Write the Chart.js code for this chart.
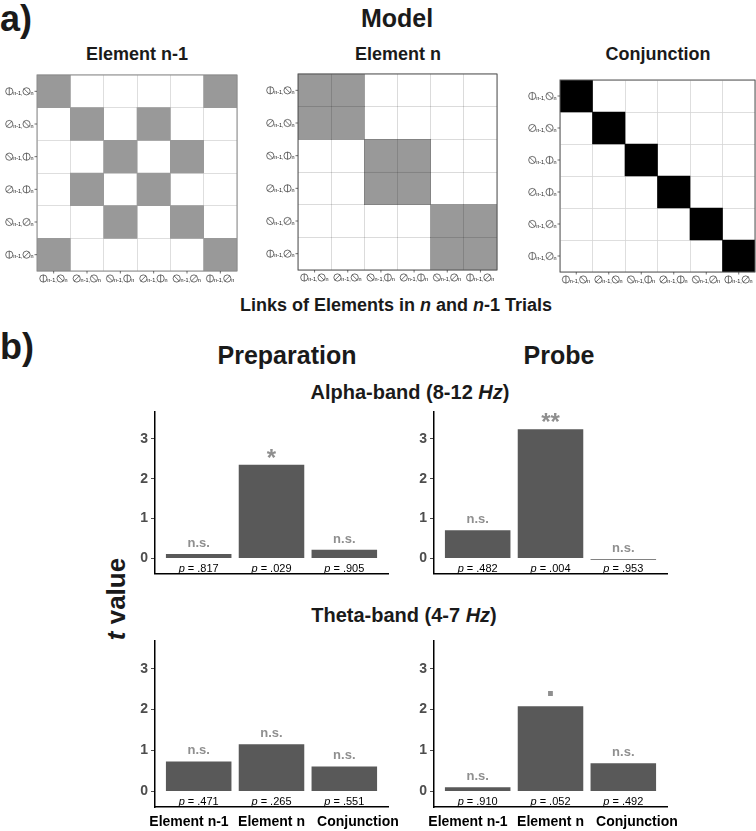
<!DOCTYPE html>
<html>
<head>
<meta charset="utf-8">
<script src="https://cdn.jsdelivr.net/npm/chart.js@4.4.1/dist/chart.umd.min.js"></script>
<style>
  html, body { margin: 0; padding: 0; background: #fff; }
  body { width: 756px; height: 831px; position: relative; overflow: hidden;
         font-family: "Liberation Sans", Arial, sans-serif; color: #1a1a1a; }
  .t { position: absolute; font-weight: bold; white-space: nowrap; line-height: 1;
       transform: translate(-50%, -50%); }
  canvas { position: absolute; }
</style>
</head>
<body>
<div class="t" style="left:0;top:19px;font-size:36px;transform:translateY(-50%)">a)</div>
<div class="t" style="left:397px;top:18px;font-size:25px">Model</div>
<div class="t" style="left:137px;top:54px;font-size:18px">Element n-1</div>
<div class="t" style="left:398px;top:54px;font-size:18px">Element n</div>
<div class="t" style="left:658px;top:54px;font-size:18px">Conjunction</div>
<div class="t" style="left:396px;top:305px;font-size:18px">Links of Elements in <i>n</i> and <i>n</i>-1 Trials</div>

<div class="t" style="left:0;top:347px;font-size:36px;transform:translateY(-50%)">b)</div>
<div class="t" style="left:287px;top:355px;font-size:25px">Preparation</div>
<div class="t" style="left:559px;top:355px;font-size:25px">Probe</div>
<div class="t" style="left:410px;top:392px;font-size:20px">Alpha-band (8-12 <i>Hz</i>)</div>
<div class="t" style="left:404px;top:615px;font-size:20px">Theta-band (4-7 <i>Hz</i>)</div>
<div class="t" style="left:116px;top:599px;font-size:26px;transform:translate(-50%,-50%) rotate(-90deg)"><i>t</i> value</div>

<canvas id="mPrev" width="242" height="220" style="left:0;top:65px"></canvas>
<canvas id="mCur" width="244" height="220" style="left:258px;top:64px"></canvas>
<canvas id="mConj" width="236" height="216" style="left:520px;top:70px"></canvas>

<canvas id="prepAlpha" width="290" height="185" style="left:115px;top:400px"></canvas>
<canvas id="probeAlpha" width="290" height="185" style="left:394px;top:400px"></canvas>
<canvas id="prepTheta" width="290" height="204" style="left:115px;top:629px"></canvas>
<canvas id="probeTheta" width="290" height="204" style="left:394px;top:629px"></canvas>

<script>
// links of elements (n-1 trial symbol, n trial symbol)
const linkPrev = ['⦶', '⊘', '⦸', '⊘', '⦸', '⦶'];
const linkCur  = ['⦸', '⦸', '⦶', '⦶', '⊘', '⊘'];
const linkLabels = linkPrev.map((p, i) => p + 'n-1,' + linkCur[i] + 'n');

// model matrices (rows top to bottom, columns left to right)
const matrixElementPrev = [
  [1, 0, 0, 0, 0, 1],
  [0, 1, 0, 1, 0, 0],
  [0, 0, 1, 0, 1, 0],
  [0, 1, 0, 1, 0, 0],
  [0, 0, 1, 0, 1, 0],
  [1, 0, 0, 0, 0, 1]
];
const matrixElementCur = [
  [1, 1, 0, 0, 0, 0],
  [1, 1, 0, 0, 0, 0],
  [0, 0, 1, 1, 0, 0],
  [0, 0, 1, 1, 0, 0],
  [0, 0, 0, 0, 1, 1],
  [0, 0, 0, 0, 1, 1]
];
const matrixConjunction = [
  [1, 0, 0, 0, 0, 0],
  [0, 1, 0, 0, 0, 0],
  [0, 0, 1, 0, 0, 0],
  [0, 0, 0, 1, 0, 0],
  [0, 0, 0, 0, 1, 0],
  [0, 0, 0, 0, 0, 1]
];

// t values
const conditions  = ['Element n-1', 'Element n', 'Conjunction'];
const tTicks      = [0, 1, 2, 3];
const tPrepAlpha  = [0.11, 2.35, 0.22];
const tProbeAlpha = [0.71, 3.24, -0.03];
const tPrepTheta  = [0.73, 1.15, 0.61];
const tProbeTheta = [0.10, 2.08, 0.69];
const pPrepAlpha  = ['.817', '.029', '.905'];
const pProbeAlpha = ['.482', '.004', '.953'];
const pPrepTheta  = ['.471', '.265', '.551'];
const pProbeTheta = ['.910', '.052', '.492'];
const sigPrepAlpha  = ['n.s.', '*', 'n.s.'];
const sigProbeAlpha = ['n.s.', '**', 'n.s.'];
const sigPrepTheta  = ['n.s.', 'n.s.', 'n.s.'];
const sigProbeTheta = ['n.s.', '.', 'n.s.'];

const FONT = '"Liberation Sans", Arial, sans-serif';

// circle symbols
function drawSym(ctx, cx, cy, r, s) {
  ctx.beginPath();
  ctx.arc(cx, cy, r, 0, Math.PI * 2);
  const d = r * 0.72;
  if (s === '⦶') { ctx.moveTo(cx, cy - r); ctx.lineTo(cx, cy + r); }
  else if (s === '⦸') { ctx.moveTo(cx - d, cy - d); ctx.lineTo(cx + d, cy + d); }
  else { ctx.moveTo(cx - d, cy + d); ctx.lineTo(cx + d, cy - d); }
  ctx.stroke();
}

// draws "A n-1, B n" ; returns the width
function drawLink(ctx, x0, cy, a, b, draw) {
  const r = 3.6;
  ctx.font = '5.5px ' + FONT;
  ctx.textAlign = 'left';
  ctx.textBaseline = 'alphabetic';
  let x = x0;
  if (draw) drawSym(ctx, x + r, cy, r, a);
  x += 2 * r + 0.3;
  if (draw) ctx.fillText('n-1', x, cy + r);
  x += ctx.measureText('n-1').width;
  if (draw) ctx.fillText(',', x, cy + r);
  x += ctx.measureText(',').width + 0.3;
  if (draw) drawSym(ctx, x + r, cy, r, b);
  x += 2 * r + 0.3;
  if (draw) ctx.fillText('n', x, cy + r);
  x += ctx.measureText('n').width;
  return x - x0;
}

const matrixLabels = {
  id: 'matrixLabels',
  afterDraw(chart, args, opts) {
    const { ctx, chartArea: a, scales: { x, y } } = chart;
    ctx.save();
    ctx.strokeStyle = opts.frame;
    ctx.lineWidth = 1;
    ctx.strokeRect(a.left, a.top, a.right - a.left, a.bottom - a.top);
    ctx.fillStyle = '#222';
    linkPrev.forEach((p, i) => {
      const w = drawLink(ctx, 0, 0, p, linkCur[i], false);
      ctx.strokeStyle = '#333';
      ctx.lineWidth = 0.7;
      const cy = y.getPixelForValue(i);
      ctx.beginPath(); ctx.moveTo(a.left - 2.5, cy); ctx.lineTo(a.left, cy); ctx.stroke();
      drawLink(ctx, a.left - 3.5 - w, cy, p, linkCur[i], true);
      const cx = x.getPixelForValue(i + 0.5);
      ctx.beginPath(); ctx.moveTo(cx, a.bottom); ctx.lineTo(cx, a.bottom + 2.5); ctx.stroke();
      drawLink(ctx, cx - w / 2, a.bottom + 7.5, p, linkCur[i], true);
    });
    ctx.restore();
  }
};

function makeMatrix(id, matrix, fill, frame, gridOnTop, yWidth, padRight) {
  const gridColor = gridOnTop ? 'rgba(0,0,0,0.18)' : '#d6d6d6';
  const gridZ = gridOnTop ? 1 : -1;
  const datasets = linkLabels.map((_, c) => ({
    data: matrix.map(row => row[c] ? [c, c + 1] : null),
    backgroundColor: fill,
    borderWidth: 0,
    grouped: false,
    barPercentage: 1,
    categoryPercentage: 1
  }));
  new Chart(document.getElementById(id), {
    type: 'bar',
    data: { labels: linkLabels, datasets: datasets },
    options: {
      indexAxis: 'y',
      responsive: false,
      animation: false,
      layout: { padding: { top: 10, right: padRight, left: 0, bottom: 0 } },
      plugins: {
        legend: { display: false },
        tooltip: { enabled: false },
        matrixLabels: { frame: frame }
      },
      scales: {
        x: {
          type: 'linear', min: 0, max: 6, offset: false,
          ticks: { display: false, stepSize: 1 },
          grid: { color: gridColor, lineWidth: 0.8, drawTicks: false, z: gridZ },
          border: { display: false },
          afterFit: s => { s.height = 14; }
        },
        y: {
          ticks: { display: false },
          grid: { color: gridColor, lineWidth: 0.8, drawTicks: false, offset: true, z: gridZ },
          border: { display: false },
          afterFit: s => { s.width = yWidth; }
        }
      }
    },
    plugins: [matrixLabels]
  });
}

makeMatrix('mPrev', matrixElementPrev, '#999999', '#8a8a8a', false, 37, 5);
makeMatrix('mCur', matrixElementCur, '#999999', '#555555', true, 40, 5);
makeMatrix('mConj', matrixConjunction, '#000000', '#555555', false, 40, 1);

// significance marks above bars, p values under them
const barNotes = {
  id: 'barNotes',
  afterDatasetsDraw(chart, args, opts) {
    const { ctx, scales: { x, y } } = chart;
    const y0 = y.getPixelForValue(0);
    const vals = chart.data.datasets[0].data;
    ctx.save();
    ctx.textBaseline = 'alphabetic';
    opts.sig.forEach((s, i) => {
      const v = vals[i].y;
      const cx = x.getPixelForValue(i);
      ctx.fillStyle = '#8f8f8f';
      ctx.textAlign = 'center';
      if (s === 'n.s.') {
        ctx.font = 'bold 13px ' + FONT;
        ctx.fillText(s, cx, y.getPixelForValue(Math.max(v, 0) + 0.26) + 3.5);
      } else if (s === '.') {
        ctx.font = 'bold 34px ' + FONT;
        ctx.fillText(s, cx, y.getPixelForValue(v + 0.31) + 2.5);
      } else {
        ctx.font = 'bold 24px ' + FONT;
        ctx.fillText(s, cx, y.getPixelForValue(v + 0.31) + 13.5);
      }
      // p value
      const rest = ' = ' + opts.p[i];
      ctx.font = 'italic 11px ' + FONT;
      const w1 = ctx.measureText('p').width;
      ctx.font = '11px ' + FONT;
      const w2 = ctx.measureText(rest).width;
      const sx = cx - (w1 + w2) / 2;
      ctx.fillStyle = '#000';
      ctx.textAlign = 'left';
      ctx.font = 'italic 11px ' + FONT;
      ctx.fillText('p', sx, y0 + 13.5);
      ctx.font = '11px ' + FONT;
      ctx.fillText(rest, sx + w1, y0 + 13.5);
    });
    ctx.restore();
  }
};

// the outer category labels sit a little away from their bars, as in the figure
function catLabel(v) {
  const last = conditions.length - 1;
  if (v === 0) return conditions[v] + '     ';
  if (v === last) return '       ' + conditions[v];
  return conditions[v];
}

function makeBars(id, values, pLabels, sigLabels, showCats) {
  new Chart(document.getElementById(id), {
    type: 'bar',
    data: {
      datasets: [{
        data: values.map((v, i) => ({ x: i, y: v })),
        backgroundColor: '#595959',
        borderWidth: 0,
        barPercentage: 0.9,
        categoryPercentage: 1
      }]
    },
    options: {
      responsive: false,
      animation: false,
      layout: { padding: { top: 8, right: 17, left: 0, bottom: 0 } },
      plugins: {
        legend: { display: false },
        tooltip: { enabled: false },
        barNotes: { p: pLabels, sig: sigLabels }
      },
      scales: {
        x: {
          type: 'linear', min: -0.6, max: 2.6, offset: false,
          afterBuildTicks: s => { s.ticks = conditions.map((_, i) => ({ value: i })); },
          ticks: {
            display: showCats, autoSkip: false, maxRotation: 0, minRotation: 0,
            padding: 7, color: '#000', font: { family: FONT, size: 14, weight: 'bold' },
            callback: catLabel
          },
          grid: { display: false, drawTicks: false },
          border: { display: true, color: '#000', width: 1.5 },
          afterFit: s => {
            s.height = showCats ? 26 : 6;
            s.paddingLeft = 0;
            s.paddingRight = 0;
          }
        },
        y: {
          min: -0.38, max: 3.69,
          afterBuildTicks: s => { s.ticks = tTicks.map(v => ({ value: v })); },
          ticks: { color: '#4d4d4d', padding: 3, font: { family: FONT, size: 14, weight: 'bold' } },
          grid: { drawOnChartArea: false, drawTicks: true, tickLength: 4, color: '#4d4d4d' },
          border: { display: true, color: '#000', width: 1.5 },
          afterFit: s => { s.width = 40; }
        }
      }
    },
    plugins: [barNotes]
  });
}

makeBars('prepAlpha', tPrepAlpha, pPrepAlpha, sigPrepAlpha, false);
makeBars('probeAlpha', tProbeAlpha, pProbeAlpha, sigProbeAlpha, false);
makeBars('prepTheta', tPrepTheta, pPrepTheta, sigPrepTheta, true);
makeBars('probeTheta', tProbeTheta, pProbeTheta, sigProbeTheta, true);
</script>
</body>
</html>
